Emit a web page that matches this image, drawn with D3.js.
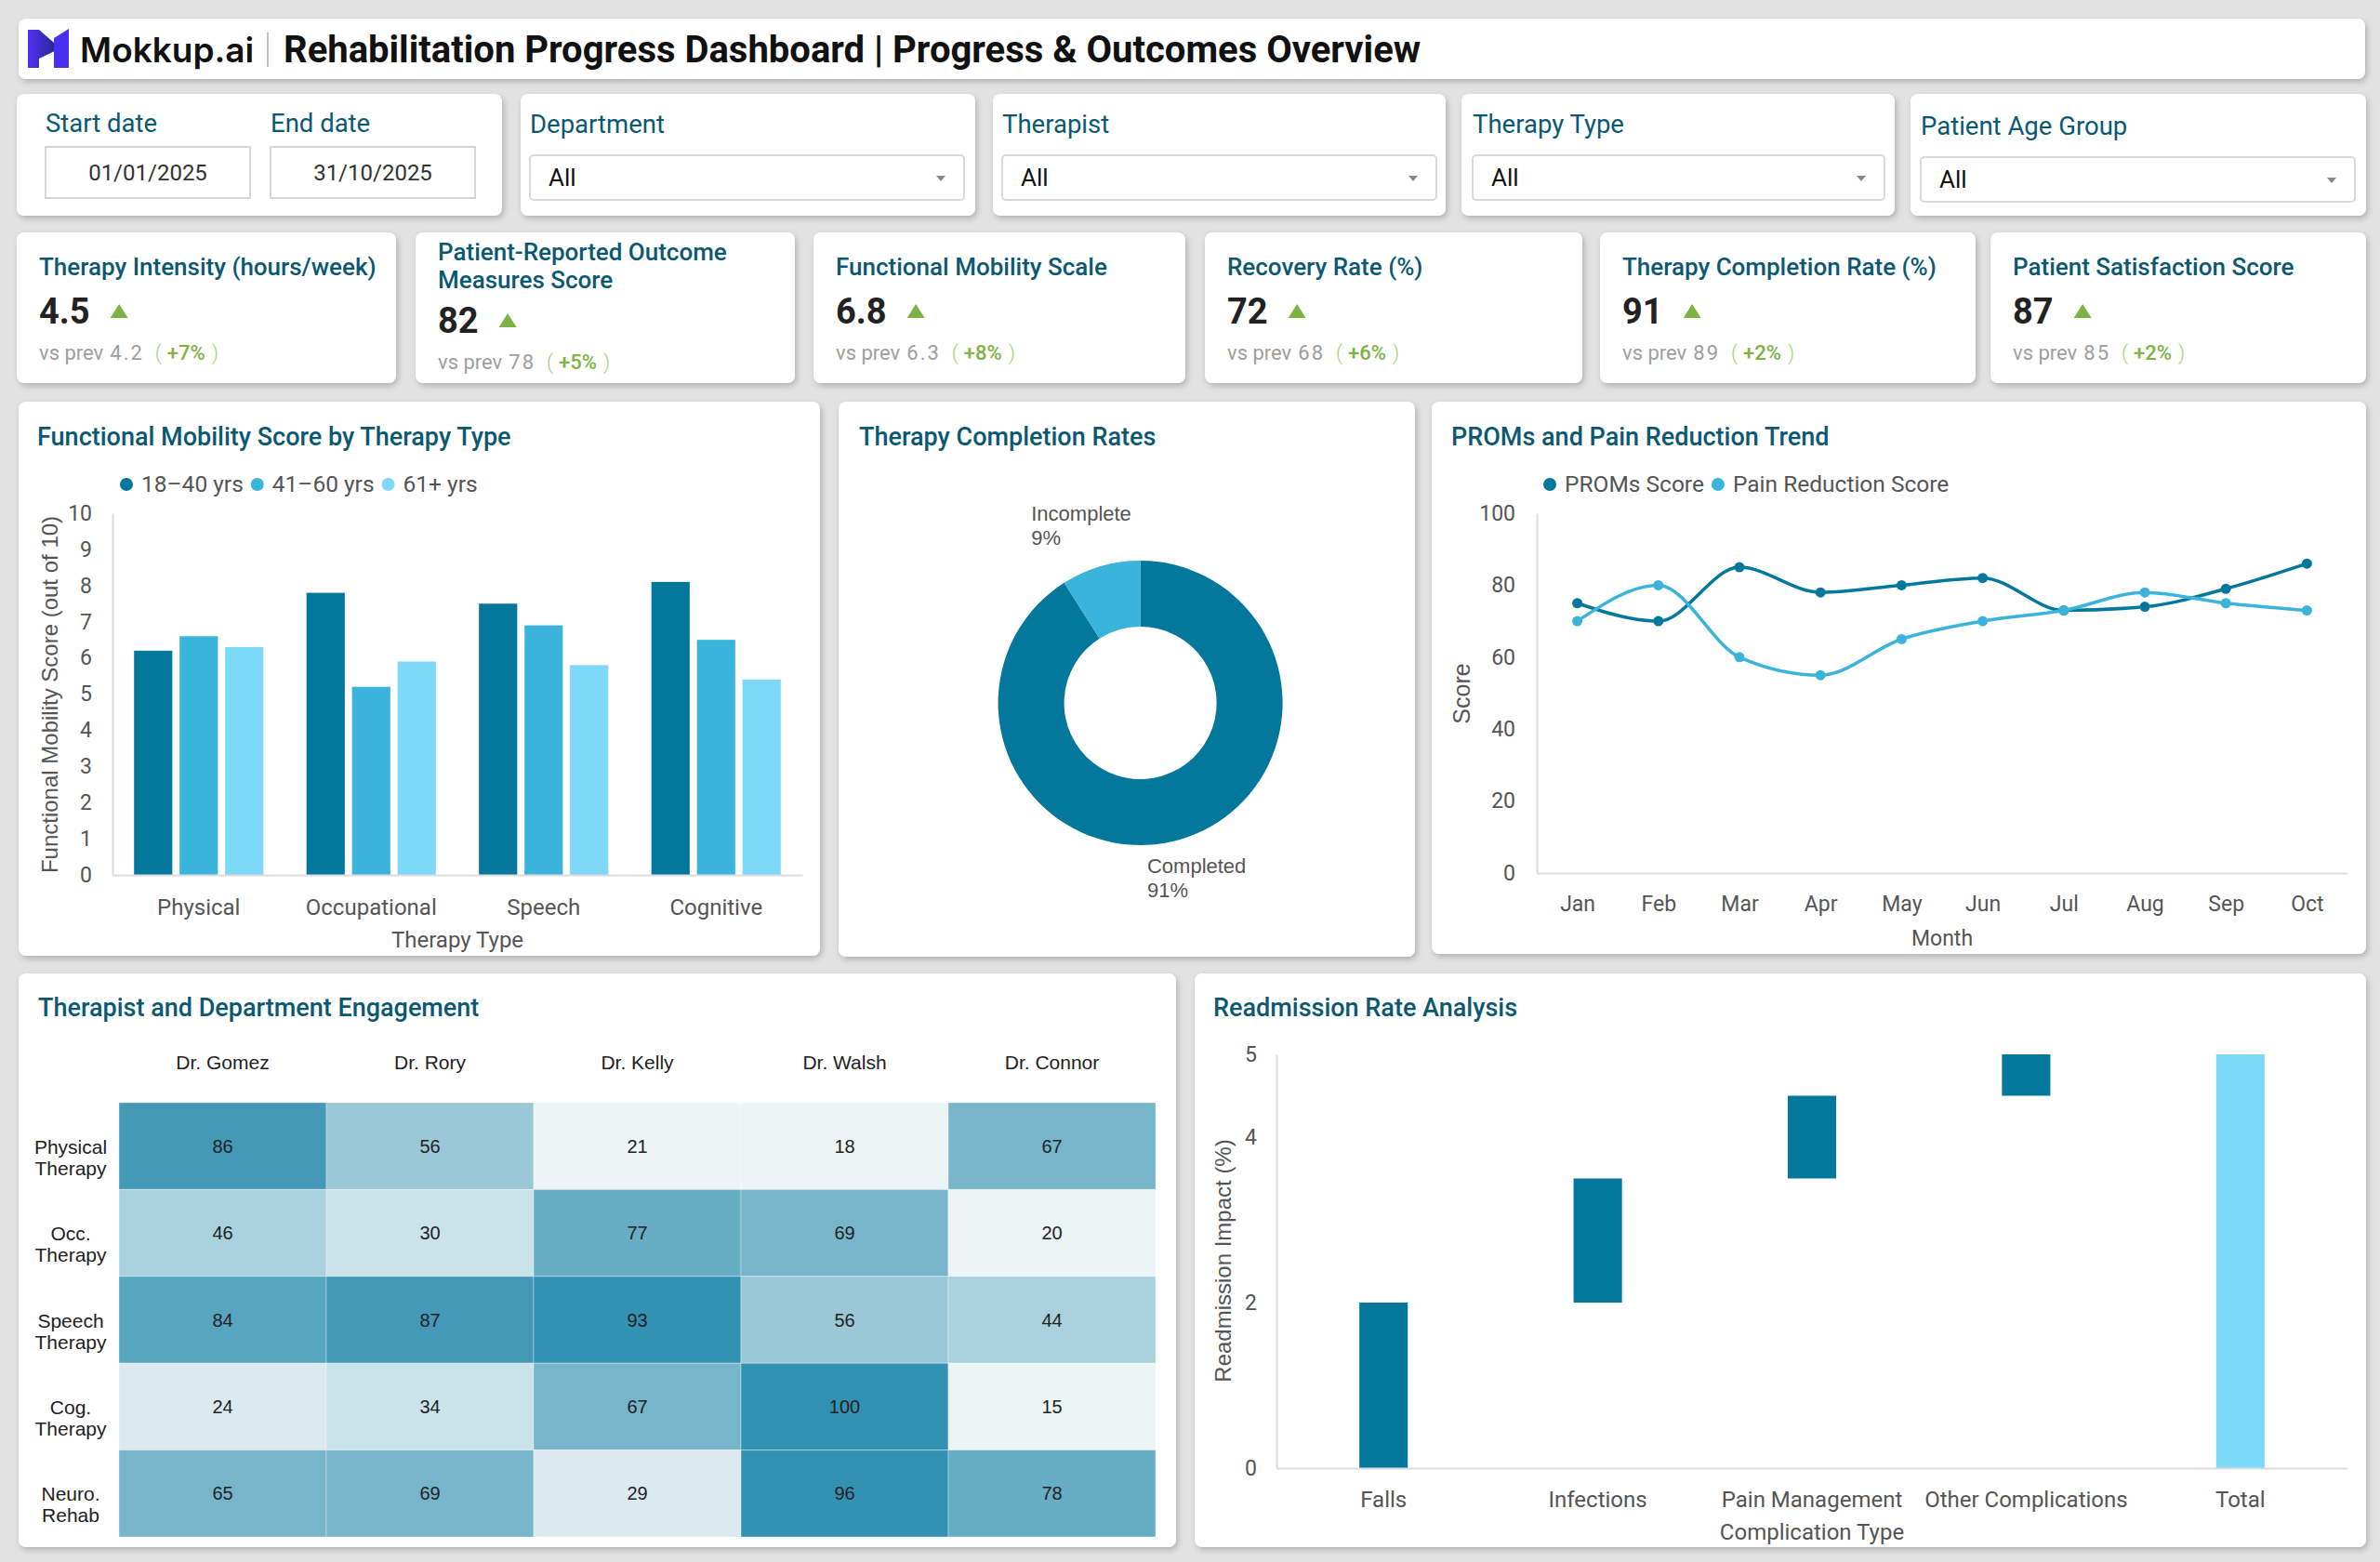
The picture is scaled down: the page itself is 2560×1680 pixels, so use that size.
<!DOCTYPE html>
<html><head><meta charset="utf-8">
<script src="https://cdn.jsdelivr.net/npm/d3@7"></script>
<style>
body{margin:0;background:#e2e2e2;}
svg{display:block;font-family:Roboto, "Noto Sans", sans-serif;}
</style></head><body>
<svg id="dash" width="2560" height="1680"></svg>
<script>
// ---------------- DATA ----------------
const headerBrand = "Mokkup.ai";
const headerTitle = "Rehabilitation Progress Dashboard | Progress & Outcomes Overview";

const dateLabels = ["Start date", "End date"];
const dateValues = ["01/01/2025", "31/10/2025"];
const filterLabels = ["Department", "Therapist", "Therapy Type", "Patient Age Group"];
const filterValues = ["All", "All", "All", "All"];

const kpiTitles = ["Therapy Intensity (hours/week)", "Patient-Reported Outcome Measures Score", "Functional Mobility Scale", "Recovery Rate (%)", "Therapy Completion Rate (%)", "Patient Satisfaction Score"];
const kpiValues = ["4.5", "82", "6.8", "72", "91", "87"];
const kpiPrev = ["4.2", "78", "6.3", "68", "89", "85"];
const kpiChange = ["+7%", "+5%", "+8%", "+6%", "+2%", "+2%"];

const therapyTypes = ["Physical", "Occupational", "Speech", "Cognitive"];
const ageGroups = ["18–40 yrs", "41–60 yrs", "61+ yrs"];
const mobility18to40 = [6.2, 7.8, 7.5, 8.1];
const mobility41to60 = [6.6, 5.2, 6.9, 6.5];
const mobility61plus = [6.3, 5.9, 5.8, 5.4];
const mobilityTicks = [0, 1, 2, 3, 4, 5, 6, 7, 8, 9, 10];

const completionLabels = ["Completed", "Incomplete"];
const completionValues = [91, 9];

const months = ["Jan", "Feb", "Mar", "Apr", "May", "Jun", "Jul", "Aug", "Sep", "Oct"];
const promsScores = [75, 70, 85, 78, 80, 82, 73, 74, 79, 86];
const painScores = [70, 80, 60, 55, 65, 70, 73, 78, 75, 73];
const trendSeries = ["PROMs Score", "Pain Reduction Score"];
const scoreTicks = [0, 20, 40, 60, 80, 100];

const therapists = ["Dr. Gomez", "Dr. Rory", "Dr. Kelly", "Dr. Walsh", "Dr. Connor"];
const departments = ["Physical Therapy", "Occ. Therapy", "Speech Therapy", "Cog. Therapy", "Neuro. Rehab"];
const engPhysical = [86, 56, 21, 18, 67];
const engOcc = [46, 30, 77, 69, 20];
const engSpeech = [84, 87, 93, 56, 44];
const engCog = [24, 34, 67, 100, 15];
const engNeuro = [65, 69, 29, 96, 78];

const complications = ["Falls", "Infections", "Pain Management", "Other Complications"];
const readmissionImpact = [2.0, 1.5, 1.0, 0.5];
const totalLabel = "Total";
const readmissionTicks = [0, 2, 4, 5];

// ---------------- STYLE ----------------
const TITLE = "#0b5872";
const DARK = "#04789c", MID = "#3bb4dc", LIGHT = "#7ed9f8";
const AXIS = "#dcdcdc", TICK = "#555";
const GREEN = "#7cb342";
const ARIAL = "'Liberation Sans', Arial, sans-serif";

const svg = d3.select("#dash");
const defs = svg.append("defs");
const flt = defs.append("filter").attr("id", "shadow")
  .attr("x", "-5%").attr("y", "-10%").attr("width", "112%").attr("height", "125%");
flt.append("feDropShadow").attr("dx", 2).attr("dy", 3).attr("stdDeviation", 3)
  .attr("flood-color", "#000").attr("flood-opacity", 0.22);
const grad = defs.append("linearGradient").attr("id", "logoGrad")
  .attr("x1", "0%").attr("x2", "100%").attr("y1", "0%").attr("y2", "0%");
grad.append("stop").attr("offset", "0%").attr("stop-color", "#5530f5");
grad.append("stop").attr("offset", "100%").attr("stop-color", "#1c2680");

function card(x, y, w, h) {
  svg.append("rect").attr("x", x).attr("y", y).attr("width", w).attr("height", h)
    .attr("rx", 8).attr("fill", "#fff").attr("filter", "url(#shadow)");
}
function text(x, y, str, size, opts = {}) {
  return svg.append("text").attr("x", x).attr("y", y).text(str)
    .attr("font-size", size)
    .attr("font-weight", opts.weight || 400)
    .attr("fill", opts.fill || "#222")
    .attr("text-anchor", opts.anchor || "start")
    .attr("font-family", opts.family || null);
}

// ---------------- HEADER ----------------
card(20, 20, 2524, 65);
svg.append("path").attr("d", "M30,32 L42,32 L65,52 L42,63 L42,73 L30,73 Z").attr("fill", "url(#logoGrad)");
svg.append("path").attr("d", "M58,41 L74,31 L74,73 L58,73 Z").attr("fill", "#4a2ff0");
text(86, 67, headerBrand, 37, { weight: 600, fill: "#111", family: "Inter, Roboto, sans-serif" });
svg.append("line").attr("x1", 288).attr("x2", 288).attr("y1", 35).attr("y2", 72)
  .attr("stroke", "#b8a3a3").attr("stroke-width", 1.5);
text(305, 67, headerTitle, 40, { weight: 700, fill: "#111" });

// ---------------- FILTERS ----------------
card(18, 101, 522, 131);
const dateBoxes = [49, 291];
dateLabels.forEach((l, i) => {
  text(dateBoxes[i], 142, l, 27.5, { fill: TITLE });
  svg.append("rect").attr("x", dateBoxes[i]).attr("y", 158).attr("width", 220).attr("height", 55)
    .attr("fill", "#fff").attr("stroke", "#d6d6d6").attr("stroke-width", 2);
  text(dateBoxes[i] + 110, 194, dateValues[i], 24, { fill: "#333", anchor: "middle" });
});
const filterCards = [{ x: 560, w: 489 }, { x: 1068, w: 487 }, { x: 1572, w: 466 }, { x: 2055, w: 490 }];
const filterSel = [{ x: 570, w: 467 }, { x: 1078, w: 467 }, { x: 1584, w: 443 }, { x: 2066, w: 467 }];
filterLabels.forEach((l, i) => {
  card(filterCards[i].x, 101, filterCards[i].w, 131);
  const s = filterSel[i];
  const dy = i === 3 ? 2 : 0;
  text(s.x, 143 + dy, l, 27.5, { fill: TITLE });
  svg.append("rect").attr("x", s.x).attr("y", 167 + dy).attr("width", s.w).attr("height", 48)
    .attr("rx", 4).attr("fill", "#fff").attr("stroke", "#d9d9d9").attr("stroke-width", 2);
  text(s.x + 20, 200 + dy, filterValues[i], 26, { fill: "#111" });
  const ax = s.x + s.w - 25, ay = 189 + dy;
  svg.append("path").attr("d", `M${ax - 5},${ay} L${ax + 5},${ay} L${ax},${ay + 6} Z`).attr("fill", "#888");
});

// ---------------- KPI CARDS ----------------
const kpiX = [18, 447, 875, 1296, 1721, 2141];
const kpiW = [408, 408, 400, 406, 404, 404];
kpiTitles.forEach((t, i) => {
  const cx = kpiX[i], cw = kpiW[i];
  card(cx, 250, cw, 162);
  const tx = cx + 24;
  const probe = text(tx, 296, t, 26, { weight: 500, fill: TITLE });
  let wrapped = false;
  if (probe.node().getComputedTextLength() > cw - 40) {
    wrapped = true;
    const words = t.split(" ");
    let line1 = [], rest = [];
    for (const w of words) {
      probe.text(line1.concat(w).join(" "));
      if (rest.length || probe.node().getComputedTextLength() > cw - 40) rest.push(w); else line1.push(w);
    }
    probe.text(null).attr("y", null);
    probe.append("tspan").attr("x", tx).attr("y", 280).text(line1.join(" "));
    probe.append("tspan").attr("x", tx).attr("y", 310).text(rest.join(" "));
  }
  const vy = wrapped ? 358 : 348;
  const val = text(tx, vy, kpiValues[i], 38, { weight: 700, fill: "#222" });
  const vw = val.node().getComputedTextLength();
  const trX = tx + vw + 22, trY = vy - 21;
  svg.append("path").attr("d", `M${trX},${trY + 15} L${trX + 9.5},${trY} L${trX + 19},${trY + 15} Z`).attr("fill", GREEN);
  const py = wrapped ? 397 : 387;
  const vs = svg.append("text").attr("x", tx).attr("y", py).attr("font-size", 22);
  vs.append("tspan").attr("fill", "#9e9e9e").text("vs prev");
  vs.append("tspan").attr("dx", 7).attr("fill", "#9e9e9e").attr("letter-spacing", 2).text(kpiPrev[i]);
  vs.append("tspan").attr("dx", 12).attr("fill", "#a5d16b").attr("font-weight", 300).text("(");
  vs.append("tspan").attr("dx", 6).attr("fill", GREEN).attr("font-weight", 500).text(kpiChange[i]);
  vs.append("tspan").attr("dx", 7).attr("fill", "#a5d16b").attr("font-weight", 300).text(")");
});

// ---------------- shared legend ----------------
function legend(x, y, labels, colors, size) {
  let cx = x;
  labels.forEach((l, i) => {
    svg.append("circle").attr("cx", cx + 7).attr("cy", y).attr("r", 7).attr("fill", colors[i]);
    const t = text(cx + 23, y + 8, l, size, { fill: TICK });
    cx = cx + 23 + t.node().getComputedTextLength() + 8;
  });
}

// ---------------- CHART 1: grouped bars ----------------
card(20, 432, 862, 596);
text(40, 479, "Functional Mobility Score by Therapy Type", 27, { weight: 500, fill: TITLE });
legend(129, 521, ageGroups, [DARK, MID, LIGHT], 24.5);
{
  const series = [mobility18to40, mobility41to60, mobility61plus];
  const x0 = d3.scaleBand().domain(therapyTypes).range([121, 863]).paddingInner(0.25).paddingOuter(0.125);
  const x1 = d3.scaleBand().domain(ageGroups).range([0, x0.bandwidth()]).paddingInner(0.16);
  const y = d3.scaleLinear().domain([0, 10]).range([941, 552]);
  const colors = d3.scaleOrdinal().domain(ageGroups).range([DARK, MID, LIGHT]);
  const g = svg.append("g");
  therapyTypes.forEach((t, ti) => {
    ageGroups.forEach((a, ai) => {
      const v = series[ai][ti];
      g.append("rect").attr("x", x0(t) + x1(a)).attr("y", y(v)).attr("width", x1.bandwidth())
        .attr("height", y(0) - y(v)).attr("fill", colors(a));
    });
  });
  const ya = svg.append("g").attr("transform", "translate(121,0)")
    .call(d3.axisLeft(y).tickValues(mobilityTicks).tickSize(0).tickPadding(22));
  ya.select(".domain").attr("stroke", AXIS).attr("stroke-width", 2);
  ya.selectAll("text").attr("font-size", 23).attr("fill", TICK).attr("font-family", "Roboto");
  const xa = svg.append("g").attr("transform", "translate(0,941)")
    .call(d3.axisBottom(x0).tickSize(0).tickPadding(26));
  xa.select(".domain").attr("stroke", AXIS).attr("stroke-width", 2);
  xa.selectAll("text").attr("font-size", 24).attr("fill", TICK).attr("font-family", "Roboto");
  text(492, 1019, "Therapy Type", 24, { fill: TICK, anchor: "middle" });
  svg.append("text").attr("transform", "translate(62,747) rotate(-90)").attr("text-anchor", "middle")
    .attr("font-size", 24).attr("fill", TICK).attr("font-family", ARIAL)
    .text("Functional Mobility Score (out of 10)");
}

// ---------------- CHART 2: donut ----------------
card(902, 432, 620, 597);
text(924, 479, "Therapy Completion Rates", 27, { weight: 500, fill: TITLE });
{
  const cx = 1226.6, cy = 756;
  const pie = d3.pie().sort(null).value(d => d)(completionValues);
  const arc = d3.arc().innerRadius(82).outerRadius(153);
  const colors = [DARK, MID];
  const g = svg.append("g").attr("transform", `translate(${cx},${cy})`);
  g.selectAll("path").data(pie).join("path").attr("d", arc).attr("fill", (d, i) => colors[i]);
  const labelArc = d3.arc().innerRadius(202).outerRadius(202);
  pie.forEach((d, i) => {
    const [px, py] = labelArc.centroid(d);
    const lx = cx + px + (px < 0 ? -61 : -49);
    const ly = cy + py + (py < 0 ? -2 : -11);
    const t = svg.append("text").attr("font-size", 22).attr("fill", TICK).attr("font-family", ARIAL);
    t.append("tspan").attr("x", lx).attr("y", ly).text(completionLabels[i]);
    t.append("tspan").attr("x", lx).attr("y", ly + 26).text(completionValues[i] + "%");
  });
}

// ---------------- CHART 3: lines ----------------
card(1540, 432, 1005, 594);
text(1561, 479, "PROMs and Pain Reduction Trend", 27, { weight: 500, fill: TITLE });
legend(1660, 521, trendSeries, [DARK, MID], 24.5);
{
  const x = d3.scalePoint().domain(months).range([1653, 2525]).padding(0.5);
  const y = d3.scaleLinear().domain([0, 100]).range([939, 552]);
  const ya = svg.append("g").attr("transform", "translate(1653,0)")
    .call(d3.axisLeft(y).tickValues(scoreTicks).tickSize(0).tickPadding(23));
  ya.select(".domain").attr("stroke", AXIS).attr("stroke-width", 2);
  ya.selectAll("text").attr("font-size", 23).attr("fill", TICK).attr("font-family", "Roboto");
  const xa = svg.append("g").attr("transform", "translate(0,939)")
    .call(d3.axisBottom(x).tickSize(0).tickPadding(25));
  xa.select(".domain").attr("stroke", AXIS).attr("stroke-width", 2);
  xa.selectAll("text").attr("font-size", 23).attr("fill", TICK).attr("font-family", "Roboto");
  text(2089, 1017, "Month", 23, { fill: TICK, anchor: "middle" });
  svg.append("text").attr("transform", "translate(1581,746) rotate(-90)").attr("text-anchor", "middle")
    .attr("font-size", 25).attr("fill", TICK).attr("font-family", ARIAL).text("Score");
  const line = d3.line().x((d, i) => x(months[i])).y(d => y(d)).curve(d3.curveMonotoneX);
  [[promsScores, DARK], [painScores, MID]].forEach(([data, c]) => {
    svg.append("path").attr("d", line(data)).attr("fill", "none").attr("stroke", c).attr("stroke-width", 3.5);
    svg.append("g").selectAll("circle").data(data).join("circle")
      .attr("cx", (d, i) => x(months[i])).attr("cy", d => y(d)).attr("r", 5.5).attr("fill", c);
  });
}

// ---------------- CHART 4: heatmap ----------------
card(20, 1047, 1245, 617);
text(41, 1093, "Therapist and Department Engagement", 27, { weight: 500, fill: TITLE });
{
  const rows = [engPhysical, engOcc, engSpeech, engCog, engNeuro];
  const x = d3.scaleBand().domain(therapists).range([128, 1243]);
  const y = d3.scaleBand().domain(departments).range([1186, 1653]);
  const color = d3.scaleThreshold().domain([22, 30, 40, 50, 60, 70, 80, 85, 90])
    .range(["#ecf4f6", "#dbeaef", "#cae2ea", "#a9d1de", "#9bc8d6", "#77b6ca", "#67adc4", "#58a5c0", "#4599b8", "#3392b2"]);
  departments.forEach((dep, ri) => {
    therapists.forEach((th, ci) => {
      const v = rows[ri][ci];
      svg.append("rect").attr("x", x(th)).attr("y", y(dep)).attr("width", x.bandwidth()).attr("height", y.bandwidth())
        .attr("fill", color(v)).attr("stroke", "rgba(255,255,255,0.35)").attr("stroke-width", 1);
      text(x(th) + x.bandwidth() / 2, y(dep) + y.bandwidth() / 2 + 7, v, 20, { fill: "#222", anchor: "middle", family: ARIAL });
    });
    const parts = dep.split(" ");
    const t = svg.append("text").attr("font-size", 21).attr("fill", "#222").attr("text-anchor", "middle").attr("font-family", ARIAL);
    const c = y(dep) + y.bandwidth() / 2;
    t.append("tspan").attr("x", 76).attr("y", c + 8).text(parts[0]);
    t.append("tspan").attr("x", 76).attr("y", c + 31).text(parts[1]);
  });
  therapists.forEach(th => {
    text(x(th) + x.bandwidth() / 2, 1150, th, 21, { fill: "#222", anchor: "middle", family: ARIAL });
  });
}

// ---------------- CHART 5: waterfall ----------------
card(1285, 1047, 1260, 617);
text(1305, 1093, "Readmission Rate Analysis", 27, { weight: 500, fill: TITLE });
{
  const cats = complications.concat([totalLabel]);
  const total = d3.sum(readmissionImpact);
  let acc = 0;
  const steps = complications.map((c, i) => { const s = { c, y0: acc, y1: acc + readmissionImpact[i], color: DARK }; acc += readmissionImpact[i]; return s; });
  steps.push({ c: totalLabel, y0: 0, y1: total, color: LIGHT });
  const x = d3.scaleBand().domain(cats).range([1373, 2525]).paddingInner(0.774).paddingOuter(0.387);
  const y = d3.scaleLinear().domain([0, 5]).range([1579, 1134]);
  svg.append("g").selectAll("rect").data(steps).join("rect")
    .attr("x", d => x(d.c)).attr("width", x.bandwidth())
    .attr("y", d => y(d.y1)).attr("height", d => y(d.y0) - y(d.y1)).attr("fill", d => d.color);
  const ya = svg.append("g").attr("transform", "translate(1373,0)")
    .call(d3.axisLeft(y).tickValues(readmissionTicks).tickFormat(d3.format("d")).tickSize(0).tickPadding(21));
  ya.select(".domain").attr("stroke", AXIS).attr("stroke-width", 2);
  ya.selectAll("text").attr("font-size", 23).attr("fill", TICK).attr("font-family", "Roboto");
  const xa = svg.append("g").attr("transform", "translate(0,1579)")
    .call(d3.axisBottom(x).tickSize(0).tickPadding(25));
  xa.select(".domain").attr("stroke", AXIS).attr("stroke-width", 2);
  xa.selectAll("text").attr("font-size", 24).attr("fill", TICK).attr("font-family", "Roboto");
  text(1949, 1656, "Complication Type", 24, { fill: TICK, anchor: "middle" });
  svg.append("text").attr("transform", "translate(1324,1356) rotate(-90)").attr("text-anchor", "middle")
    .attr("font-size", 24).attr("fill", TICK).attr("font-family", ARIAL).text("Readmission Impact (%)");
}
</script>
</body></html>
